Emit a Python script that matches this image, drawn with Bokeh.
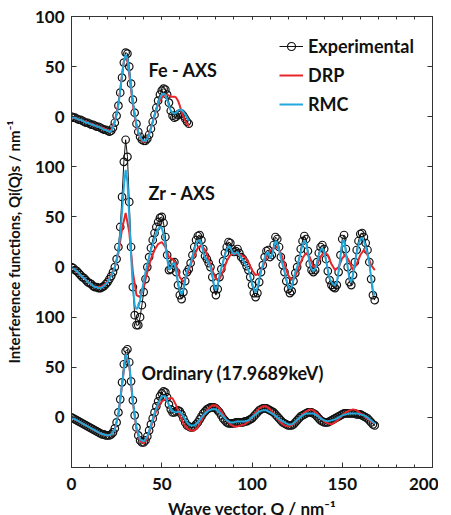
from bokeh.plotting import figure
from bokeh.models import (Range1d, FixedTicker, SingleIntervalTicker, LinearAxis,
                          Legend, LegendItem, Label)
from bokeh.embed import file_html
from bokeh.resources import INLINE

# ---------------- data ----------------
# vertical offsets of the three stacked panels
fe_offset = 300
zr_offset = 150
ord_offset = 0

# Fe - AXS
fe_q = list(range(0, 66))
fe_exp = [0, -1, -1, -2, -3, -3, -4, -5, -6, -6, -7, -8, -8, -9, -10, -10, -11, -12, -13, -13,
          -14, -15, -14, -11, -6, 1, 11, 24, 39, 54, 64, 63, 50, 33, 17, 4, -7, -15, -20, -23,
          -24, -24, -22, -18, -12, -5, 2, 9, 16, 22, 26, 28, 27, 22, 14, 6, 1, -1, 0, 2,
          3, 3, 1, -2, -5, -7]
fe_drp = [0, -1, -1, -2, -3, -3, -4, -5, -5, -6, -7, -7, -8, -9, -9, -10, -11, -11, -12, -13,
          -13, -14, -13, -10, -4, 4, 14, 27, 42, 55, 60, 55, 42, 27, 12, 0, -9, -16, -21, -24,
          -25, -24, -21, -17, -11, -5, 1, 7, 12, 16, 19, 21, 22, 22, 21, 20, 20, 20, 19, 16,
          11, 5, 0, -4, -7, -10]
fe_rmc = [0, -1, -1, -2, -3, -3, -4, -5, -6, -6, -7, -8, -8, -9, -10, -10, -11, -12, -13, -13,
          -14, -15, -14, -11, -5, 2, 12, 26, 41, 55, 62, 58, 45, 30, 15, 3, -7, -15, -20, -23,
          -24, -24, -22, -18, -12, -5, 2, 8, 14, 19, 22, 23, 22, 17, 11, 6, 4, 3, 4, 6,
          7, 7, 5, 2, -1, -4]

# Zr - AXS
zr_q = list(range(0, 169))
zr_exp = [0, -1, -3, -4, -6, -8, -10, -11, -13, -15, -16, -17, -19, -20, -20, -21, -21, -20, -19, -17,
          -15, -12, -9, -5, 0, 8, 20, 40, 70, 105, 127, 110, 65, 20, -20, -48, -58, -58, -50, -38,
          -25, -12, 0, 10, 19, 27, 34, 40, 45, 49, 50, 44, 30, 12, -3, -2, 4, 5, -5, -18,
          -28, -32, -25, -14, -5, -2, 4, 12, 20, 27, 31, 32, 27, 18, 11, 8, 4, 0, -10, -22,
          -28, -22, -10, -2, 6, 14, 20, 25, 24, 18, 15, 16, 18, 14, 10, 8, 5, 1, -3, -10,
          -18, -26, -30, -26, -15, -5, 2, 10, 16, 17, 10, 12, 22, 30, 28, 20, 10, 2, -5, -14,
          -22, -26, -24, -14, -6, 0, 8, 18, 26, 31, 28, 16, 3, -3, -5, -3, 5, 14, 20, 22,
          18, 8, -4, -13, -18, -20, -21, -18, -5, 12, 28, 32, 18, 0, -15, -18, -8, 5, 17, 26,
          33, 34, 30, 24, 17, 5, -12, -28, -33]
zr_rmc = [0, -1, -3, -4, -6, -8, -10, -11, -13, -15, -16, -17, -19, -20, -20, -21, -21, -20, -19, -17,
          -15, -12, -9, -5, 0, 7, 17, 33, 55, 80, 97, 85, 50, 12, -20, -38, -42, -40, -33, -24,
          -14, -5, 3, 10, 17, 23, 29, 34, 38, 40, 39, 33, 22, 8, -2, -1, 3, 4, -4, -15,
          -24, -27, -22, -12, -4, -1, 4, 10, 17, 23, 26, 27, 23, 15, 9, 7, 4, 0, -8, -18,
          -23, -18, -8, -1, 5, 12, 17, 21, 20, 15, 13, 14, 15, 12, 9, 7, 4, 1, -3, -9,
          -16, -22, -25, -21, -12, -4, 2, 9, 14, 15, 9, 11, 19, 26, 24, 17, 9, 2, -4, -12,
          -19, -22, -20, -12, -5, 0, 7, 15, 22, 26, 24, 14, 3, -2, -4, -2, 4, 12, 17, 19,
          15, 7, -3, -11, -15, -17, -18, -15, -4, 10, 24, 27, 15, 0, -12, -15, -7, 4, 14, 22,
          28, 29, 26, 20, 14, 4, -10, -23, -28]
zr_drp_q = list(range(0, 169, 2))
zr_drp = [0, -3, -6, -10, -13, -16, -19, -20, -20, -18, -14, -8, 0, 14, 38, 54, 35, -5, -28, -30,
          -20, -5, 8, 17, 23, 25, 20, 10, 8, 2, -10, -15, -8, 2, 12, 19, 22, 17, 8, -3,
          -12, -12, -4, 6, 12, 14, 13, 12, 10, 5, -3, -8, -7, 0, 10, 16, 19, 20, 14, 3,
          -8, -13, -9, 0, 9, 14, 10, 0, 2, 10, 15, 12, 3, -3, 0, 9, 12, 5, -3, 3,
          12, 17, 12, 2, -3]

# Ordinary (17.9689 keV)
ord_q = list(range(0, 169))
ord_exp = [0, -1, -2, -3, -4, -5, -6, -7, -8, -9, -10, -11, -12, -13, -14, -15, -16, -17, -17, -18,
           -18, -18, -17, -15, -11, -5, 5, 18, 35, 53, 66, 68, 55, 36, 17, 2, -10, -18, -23, -25,
           -25, -23, -19, -13, -7, -1, 5, 11, 16, 21, 24, 26, 25, 20, 13, 8, 5, 5, 6, 7,
           6, 3, -1, -5, -8, -9, -10, -10, -9, -7, -5, -2, 1, 4, 6, 8, 9, 10, 10, 10,
           9, 7, 5, 2, -1, -3, -5, -6, -6, -6, -6, -5, -5, -5, -5, -5, -4, -4, -3, -2,
           -1, 1, 3, 5, 7, 8, 9, 9, 9, 8, 7, 6, 5, 3, 1, -1, -3, -5, -6, -7,
           -8, -8, -8, -7, -5, -3, -1, 1, 2, 3, 4, 5, 5, 5, 4, 3, 1, -1, -3, -4,
           -5, -5, -5, -4, -3, -2, -1, 0, 1, 2, 3, 4, 4, 4, 4, 4, 4, 4, 3, 3,
           3, 2, 1, 0, -1, -3, -5, -7, -8]
ord_model_q = list(range(0, 169, 2))
ord_drp = [0, -2, -4, -6, -8, -10, -12, -14, -16, -17, -18, -17, -12, 3, 32, 62, 52, 15, -12, -23,
           -26, -21, -10, 2, 11, 16, 18, 19, 19, 12, 2, -6, -11, -13, -13, -10, -3, 4, 9, 12,
           12, 9, 3, -3, -7, -9, -9, -8, -7, -4, 0, 5, 9, 11, 11, 8, 4, -1, -5, -8,
           -9, -8, -5, -1, 3, 6, 8, 7, 4, 0, -4, -6, -7, -5, -2, 2, 5, 7, 8, 7,
           4, 2, -1, -4, -6]
ord_rmc = [0, -2, -4, -6, -8, -10, -12, -14, -16, -17, -18, -17, -12, 4, 33, 63, 53, 16, -10, -22,
           -24, -19, -8, 4, 14, 21, 21, 12, 6, 5, 6, 1, -5, -8, -8, -5, 0, 4, 7, 8,
           8, 5, 1, -3, -5, -5, -4, -4, -4, -3, 0, 3, 6, 7, 7, 5, 3, 0, -3, -5,
           -7, -7, -4, -1, 2, 4, 4, 4, 2, -1, -3, -4, -3, -2, 0, 2, 3, 4, 4, 4,
           3, 2, 0, -3, -6]

# axis ticks: positions on the stacked scale and their per-panel labels
y_ticks = [0, 50, 100, 150, 200, 250, 300, 350, 400]
y_tick_labels = ["0", "50", "100", "0", "50", "100", "0", "50", "100"]

panel_labels = ["Fe - AXS", "Zr - AXS", "Ordinary (17.9689keV)"]

# ---------------- styles ----------------
FONT = "Lato"
RED = "#e8262a"
CYAN = "#22a8dc"
BLACK = "#111111"

p = figure(frame_width=361, frame_height=451, output_backend="svg", toolbar_location=None,
           x_range=Range1d(0, 200), y_range=Range1d(-50, 400),
           min_border_left=71, min_border_top=16, min_border_right=6, min_border_bottom=10)
p.background_fill_color = "white"
p.border_fill_color = "white"
p.outline_line_color = "#333333"
p.outline_line_width = 1
p.xgrid.visible = False
p.ygrid.visible = False

def shift(vals, off):
    return [v + off for v in vals]

exp_line_r = []
exp_pt_r = []
drp_r = []
rmc_r = []

panels = [
    (fe_q, fe_exp, fe_q, fe_drp, fe_q, fe_rmc, fe_offset),
    (zr_q, zr_exp, zr_drp_q, zr_drp, zr_q, zr_rmc, zr_offset),
    (ord_q, ord_exp, ord_model_q, ord_drp, ord_model_q, ord_rmc, ord_offset),
]
for qe, ye, qd, yd, qr, yr, off in panels:
    exp_line_r.append(p.line(qe, shift(ye, off), line_color=BLACK, line_width=1))
    exp_pt_r.append(p.scatter(qe, shift(ye, off), marker="circle", size=7.5,
                              line_color=BLACK, line_width=1.2, fill_alpha=0))
    drp_r.append(p.line(qd, shift(yd, off), line_color=RED, line_width=2))
    rmc_r.append(p.line(qr, shift(yr, off), line_color=CYAN, line_width=2))

# axes
p.xaxis.ticker = SingleIntervalTicker(interval=50, num_minor_ticks=5)
p.yaxis.ticker = FixedTicker(ticks=y_ticks)
p.yaxis.major_label_overrides = {t: l for t, l in zip(y_ticks, y_tick_labels)}

for ax in (p.xaxis[0], p.yaxis[0]):
    ax.axis_line_color = "#333333"
    ax.axis_line_width = 1
    ax.major_tick_in = 5
    ax.major_tick_out = 0
    ax.minor_tick_in = 3
    ax.minor_tick_out = 0
    ax.major_tick_line_color = "#333333"
    ax.minor_tick_line_color = "#333333"
    ax.major_label_text_font = FONT
    ax.major_label_text_font_style = "bold"
    ax.major_label_text_font_size = "17px"
    ax.major_label_text_color = BLACK
    ax.axis_label_text_font = FONT
    ax.axis_label_text_font_style = "bold"
    ax.axis_label_text_color = BLACK

p.xaxis.axis_label = "Wave vector, Q / nm⁻¹"
p.yaxis.axis_label = "Interference functions, Qi(Q)s / nm⁻¹"
p.xaxis.axis_label_text_font_size = "17px"
p.yaxis.axis_label_text_font_size = "15px"
p.xaxis.major_label_standoff = 10
p.xaxis.axis_label_standoff = 5
p.yaxis.major_label_standoff = 7
p.yaxis.axis_label_standoff = 9

top_ax = LinearAxis(ticker=SingleIntervalTicker(interval=50, num_minor_ticks=5),
                    major_label_text_font_size="1px", major_label_text_color=None,
                    major_label_standoff=0,
                    axis_line_color=None, major_tick_in=3, major_tick_out=0,
                    minor_tick_in=3, minor_tick_out=0,
                    major_tick_line_color="#333333", minor_tick_line_color="#333333")
right_ax = LinearAxis(ticker=FixedTicker(ticks=y_ticks),
                      major_label_text_font_size="1px", major_label_text_color=None,
                      major_label_standoff=0,
                      axis_line_color=None, major_tick_in=5, major_tick_out=0,
                      major_tick_line_color="#333333")
p.add_layout(top_ax, "above")
p.add_layout(right_ax, "right")

# panel captions
label_pos = [(42.7, fe_offset + 47), (42.7, zr_offset + 74), (38.8, ord_offset + 44)]
for txt, (lx, ly) in zip(panel_labels, label_pos):
    p.add_layout(Label(x=lx, y=ly, text=txt, text_font=FONT, text_font_style="bold",
                       text_font_size="18px", text_color=BLACK, text_baseline="middle"))

legend = Legend(items=[
    LegendItem(label="Experimental", renderers=[exp_line_r[0], exp_pt_r[0]]),
    LegendItem(label="DRP", renderers=[drp_r[0]]),
    LegendItem(label="RMC", renderers=[rmc_r[0]]),
], location=(208, 352))
legend.label_text_font = FONT
legend.label_text_font_style = "bold"
legend.label_text_font_size = "18px"
legend.label_text_color = BLACK
legend.glyph_width = 24
legend.glyph_height = 20
legend.label_height = 20
legend.label_standoff = 5
legend.spacing = 7
legend.padding = 0
legend.margin = 0
legend.border_line_alpha = 0
legend.background_fill_alpha = 0
p.add_layout(legend)

open("out.html", "w").write(file_html(p, INLINE))
